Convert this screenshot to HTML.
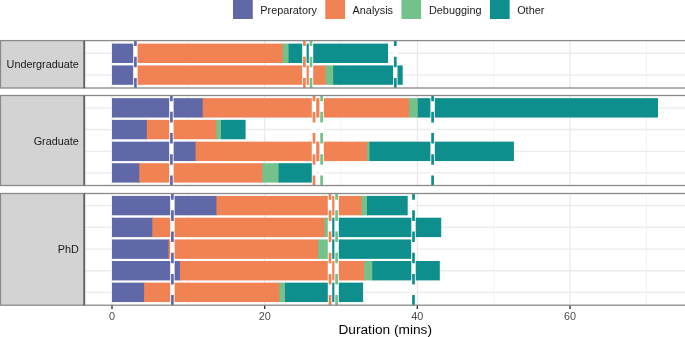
<!DOCTYPE html><html><head><meta charset="utf-8"><style>html,body{margin:0;padding:0;background:#fff;}svg{display:block;will-change:transform;}text{font-family:"Liberation Sans",sans-serif;}</style></head><body>
<svg width="685" height="337" viewBox="0 0 685 337">
<rect x="0" y="0" width="685" height="337" fill="#fff"/>
<rect x="233.0" y="-1" width="19.75" height="20.0" fill="#6068A8"/>
<text x="260.3" y="13.9" font-size="10.85" fill="#1A1A1A">Preparatory</text>
<rect x="325.3" y="-1" width="19.75" height="20.0" fill="#F08253"/>
<text x="352.6" y="13.9" font-size="10.85" fill="#1A1A1A">Analysis</text>
<rect x="401.4" y="-1" width="19.75" height="20.0" fill="#74C18C"/>
<text x="429.0" y="13.9" font-size="10.85" fill="#1A1A1A">Debugging</text>
<rect x="489.9" y="-1" width="19.75" height="20.0" fill="#0E8E8C"/>
<text x="517.2" y="13.9" font-size="10.85" fill="#1A1A1A">Other</text>
<clipPath id="c0"><rect x="84.5" y="40.6" width="601.5" height="47.4"/></clipPath>
<rect x="0.5" y="40.6" width="84.0" height="47.4" fill="#D3D3D3" stroke="#8A8A8A" stroke-width="1.3"/>
<text x="78.9" y="68.4" font-size="10.85" text-anchor="end" fill="#1A1A1A">Undergraduate</text>
<rect x="84.5" y="40.6" width="601.5" height="47.4" fill="#fff"/>
<g clip-path="url(#c0)">
<line x1="188.33" y1="40.6" x2="188.33" y2="88.0" stroke="#F3F3F3" stroke-width="1"/>
<line x1="341.00" y1="40.6" x2="341.00" y2="88.0" stroke="#F3F3F3" stroke-width="1"/>
<line x1="493.67" y1="40.6" x2="493.67" y2="88.0" stroke="#F3F3F3" stroke-width="1"/>
<line x1="646.33" y1="40.6" x2="646.33" y2="88.0" stroke="#F3F3F3" stroke-width="1"/>
<line x1="112.00" y1="40.6" x2="112.00" y2="88.0" stroke="#EBEBEB" stroke-width="1.4"/>
<line x1="264.67" y1="40.6" x2="264.67" y2="88.0" stroke="#EBEBEB" stroke-width="1.4"/>
<line x1="417.33" y1="40.6" x2="417.33" y2="88.0" stroke="#EBEBEB" stroke-width="1.4"/>
<line x1="570.00" y1="40.6" x2="570.00" y2="88.0" stroke="#EBEBEB" stroke-width="1.4"/>
<line x1="84.5" y1="53.3" x2="686.0" y2="53.3" stroke="#EBEBEB" stroke-width="1.4"/>
<line x1="84.5" y1="75.1" x2="686.0" y2="75.1" stroke="#EBEBEB" stroke-width="1.4"/>
<rect x="112" y="43.60" width="24.20" height="19.40" fill="#6068A8"/>
<rect x="135.4" y="43.60" width="148.30" height="19.40" fill="#F08253"/>
<rect x="282.9" y="43.60" width="6.50" height="19.40" fill="#74C18C"/>
<rect x="288.6" y="43.60" width="99.40" height="19.40" fill="#0E8E8C"/>
<rect x="112" y="65.40" width="24.20" height="19.40" fill="#6068A8"/>
<rect x="135.4" y="65.40" width="190.90" height="19.40" fill="#F08253"/>
<rect x="325.5" y="65.40" width="8.50" height="19.40" fill="#74C18C"/>
<rect x="333.2" y="65.40" width="69.50" height="19.40" fill="#0E8E8C"/>
<line x1="135.4" y1="40.6" x2="135.4" y2="88.0" stroke="#fff" stroke-width="4.4"/>
<line x1="304.4" y1="40.6" x2="304.4" y2="88.0" stroke="#fff" stroke-width="4.4"/>
<line x1="311.0" y1="40.6" x2="311.0" y2="88.0" stroke="#fff" stroke-width="4.4"/>
<line x1="395.3" y1="40.6" x2="395.3" y2="88.0" stroke="#fff" stroke-width="4.4"/>
<line x1="135.4" y1="88.5" x2="135.4" y2="39.6" stroke="#6068A8" stroke-width="2.7" stroke-dasharray="10.6 10.6"/>
<line x1="304.4" y1="88.5" x2="304.4" y2="39.6" stroke="#F08253" stroke-width="2.7" stroke-dasharray="10.6 10.6"/>
<line x1="311.0" y1="88.5" x2="311.0" y2="39.6" stroke="#74C18C" stroke-width="2.7" stroke-dasharray="10.6 10.6"/>
<line x1="395.3" y1="88.5" x2="395.3" y2="39.6" stroke="#0E8E8C" stroke-width="2.7" stroke-dasharray="10.6 10.6"/>
</g>
<rect x="84.5" y="40.6" width="601.5" height="47.4" fill="none" stroke="#8A8A8A" stroke-width="1.3"/>
<clipPath id="c1"><rect x="84.5" y="95.5" width="601.5" height="90.0"/></clipPath>
<rect x="0.5" y="95.5" width="84.0" height="90.0" fill="#D3D3D3" stroke="#8A8A8A" stroke-width="1.3"/>
<text x="78.9" y="144.8" font-size="10.85" text-anchor="end" fill="#1A1A1A">Graduate</text>
<rect x="84.5" y="95.5" width="601.5" height="90.0" fill="#fff"/>
<g clip-path="url(#c1)">
<line x1="188.33" y1="95.5" x2="188.33" y2="185.5" stroke="#F3F3F3" stroke-width="1"/>
<line x1="341.00" y1="95.5" x2="341.00" y2="185.5" stroke="#F3F3F3" stroke-width="1"/>
<line x1="493.67" y1="95.5" x2="493.67" y2="185.5" stroke="#F3F3F3" stroke-width="1"/>
<line x1="646.33" y1="95.5" x2="646.33" y2="185.5" stroke="#F3F3F3" stroke-width="1"/>
<line x1="112.00" y1="95.5" x2="112.00" y2="185.5" stroke="#EBEBEB" stroke-width="1.4"/>
<line x1="264.67" y1="95.5" x2="264.67" y2="185.5" stroke="#EBEBEB" stroke-width="1.4"/>
<line x1="417.33" y1="95.5" x2="417.33" y2="185.5" stroke="#EBEBEB" stroke-width="1.4"/>
<line x1="570.00" y1="95.5" x2="570.00" y2="185.5" stroke="#EBEBEB" stroke-width="1.4"/>
<line x1="84.5" y1="107.85" x2="686.0" y2="107.85" stroke="#EBEBEB" stroke-width="1.4"/>
<line x1="84.5" y1="129.55" x2="686.0" y2="129.55" stroke="#EBEBEB" stroke-width="1.4"/>
<line x1="84.5" y1="151.35" x2="686.0" y2="151.35" stroke="#EBEBEB" stroke-width="1.4"/>
<line x1="84.5" y1="172.9" x2="686.0" y2="172.9" stroke="#EBEBEB" stroke-width="1.4"/>
<rect x="112" y="98.15" width="91.50" height="19.40" fill="#6068A8"/>
<rect x="202.7" y="98.15" width="207.30" height="19.40" fill="#F08253"/>
<rect x="409.2" y="98.15" width="9.40" height="19.40" fill="#74C18C"/>
<rect x="417.8" y="98.15" width="240.20" height="19.40" fill="#0E8E8C"/>
<rect x="112" y="119.85" width="35.60" height="19.40" fill="#6068A8"/>
<rect x="146.8" y="119.85" width="70.40" height="19.40" fill="#F08253"/>
<rect x="216.4" y="119.85" width="5.40" height="19.40" fill="#74C18C"/>
<rect x="221.0" y="119.85" width="24.60" height="19.40" fill="#0E8E8C"/>
<rect x="112" y="141.65" width="84.30" height="19.40" fill="#6068A8"/>
<rect x="195.5" y="141.65" width="172.40" height="19.40" fill="#F08253"/>
<rect x="367.1" y="141.65" width="3.20" height="19.40" fill="#74C18C"/>
<rect x="369.5" y="141.65" width="144.40" height="19.40" fill="#0E8E8C"/>
<rect x="112" y="163.20" width="28.00" height="19.40" fill="#6068A8"/>
<rect x="139.2" y="163.20" width="124.00" height="19.40" fill="#F08253"/>
<rect x="262.4" y="163.20" width="17.00" height="19.40" fill="#74C18C"/>
<rect x="278.6" y="163.20" width="34.40" height="19.40" fill="#0E8E8C"/>
<line x1="171.4" y1="95.5" x2="171.4" y2="185.5" stroke="#fff" stroke-width="4.4"/>
<line x1="314.0" y1="95.5" x2="314.0" y2="185.5" stroke="#fff" stroke-width="4.4"/>
<line x1="321.6" y1="95.5" x2="321.6" y2="185.5" stroke="#fff" stroke-width="4.4"/>
<line x1="432.6" y1="95.5" x2="432.6" y2="185.5" stroke="#fff" stroke-width="4.4"/>
<line x1="171.4" y1="186.0" x2="171.4" y2="94.5" stroke="#6068A8" stroke-width="2.7" stroke-dasharray="10.6 10.6"/>
<line x1="314.0" y1="186.0" x2="314.0" y2="94.5" stroke="#F08253" stroke-width="2.7" stroke-dasharray="10.6 10.6"/>
<line x1="321.6" y1="186.0" x2="321.6" y2="94.5" stroke="#74C18C" stroke-width="2.7" stroke-dasharray="10.6 10.6"/>
<line x1="432.6" y1="186.0" x2="432.6" y2="94.5" stroke="#0E8E8C" stroke-width="2.7" stroke-dasharray="10.6 10.6"/>
</g>
<rect x="84.5" y="95.5" width="601.5" height="90.0" fill="none" stroke="#8A8A8A" stroke-width="1.3"/>
<clipPath id="c2"><rect x="84.5" y="193.5" width="601.5" height="111.69999999999999"/></clipPath>
<rect x="0.5" y="193.5" width="84.0" height="111.69999999999999" fill="#D3D3D3" stroke="#8A8A8A" stroke-width="1.3"/>
<text x="78.9" y="253.1" font-size="10.85" text-anchor="end" fill="#1A1A1A">PhD</text>
<rect x="84.5" y="193.5" width="601.5" height="111.69999999999999" fill="#fff"/>
<g clip-path="url(#c2)">
<line x1="188.33" y1="193.5" x2="188.33" y2="305.2" stroke="#F3F3F3" stroke-width="1"/>
<line x1="341.00" y1="193.5" x2="341.00" y2="305.2" stroke="#F3F3F3" stroke-width="1"/>
<line x1="493.67" y1="193.5" x2="493.67" y2="305.2" stroke="#F3F3F3" stroke-width="1"/>
<line x1="646.33" y1="193.5" x2="646.33" y2="305.2" stroke="#F3F3F3" stroke-width="1"/>
<line x1="112.00" y1="193.5" x2="112.00" y2="305.2" stroke="#EBEBEB" stroke-width="1.4"/>
<line x1="264.67" y1="193.5" x2="264.67" y2="305.2" stroke="#EBEBEB" stroke-width="1.4"/>
<line x1="417.33" y1="193.5" x2="417.33" y2="305.2" stroke="#EBEBEB" stroke-width="1.4"/>
<line x1="570.00" y1="193.5" x2="570.00" y2="305.2" stroke="#EBEBEB" stroke-width="1.4"/>
<line x1="84.5" y1="205.6" x2="686.0" y2="205.6" stroke="#EBEBEB" stroke-width="1.4"/>
<line x1="84.5" y1="227.4" x2="686.0" y2="227.4" stroke="#EBEBEB" stroke-width="1.4"/>
<line x1="84.5" y1="249.15" x2="686.0" y2="249.15" stroke="#EBEBEB" stroke-width="1.4"/>
<line x1="84.5" y1="270.7" x2="686.0" y2="270.7" stroke="#EBEBEB" stroke-width="1.4"/>
<line x1="84.5" y1="292.35" x2="686.0" y2="292.35" stroke="#EBEBEB" stroke-width="1.4"/>
<rect x="112" y="195.90" width="105.20" height="19.40" fill="#6068A8"/>
<rect x="216.4" y="195.90" width="146.00" height="19.40" fill="#F08253"/>
<rect x="361.6" y="195.90" width="6.20" height="19.40" fill="#74C18C"/>
<rect x="367.0" y="195.90" width="40.70" height="19.40" fill="#0E8E8C"/>
<rect x="112" y="217.70" width="41.10" height="19.40" fill="#6068A8"/>
<rect x="152.3" y="217.70" width="173.00" height="19.40" fill="#F08253"/>
<rect x="324.5" y="217.70" width="5.30" height="19.40" fill="#74C18C"/>
<rect x="329.0" y="217.70" width="112.20" height="19.40" fill="#0E8E8C"/>
<rect x="112" y="239.45" width="57.30" height="19.40" fill="#6068A8"/>
<rect x="168.5" y="239.45" width="150.40" height="19.40" fill="#F08253"/>
<rect x="318.1" y="239.45" width="11.70" height="19.40" fill="#74C18C"/>
<rect x="329.0" y="239.45" width="82.50" height="19.40" fill="#0E8E8C"/>
<rect x="112" y="261.00" width="68.70" height="19.40" fill="#6068A8"/>
<rect x="179.9" y="261.00" width="185.10" height="19.40" fill="#F08253"/>
<rect x="364.2" y="261.00" width="8.90" height="19.40" fill="#74C18C"/>
<rect x="372.3" y="261.00" width="67.50" height="19.40" fill="#0E8E8C"/>
<rect x="112" y="282.65" width="32.90" height="19.40" fill="#6068A8"/>
<rect x="144.1" y="282.65" width="136.00" height="19.40" fill="#F08253"/>
<rect x="279.3" y="282.65" width="6.50" height="19.40" fill="#74C18C"/>
<rect x="285.0" y="282.65" width="78.10" height="19.40" fill="#0E8E8C"/>
<line x1="172.4" y1="193.5" x2="172.4" y2="305.2" stroke="#fff" stroke-width="4.4"/>
<line x1="330.0" y1="193.5" x2="330.0" y2="305.2" stroke="#fff" stroke-width="4.4"/>
<line x1="336.6" y1="193.5" x2="336.6" y2="305.2" stroke="#fff" stroke-width="4.4"/>
<line x1="413.5" y1="193.5" x2="413.5" y2="305.2" stroke="#fff" stroke-width="4.4"/>
<line x1="172.4" y1="305.7" x2="172.4" y2="192.5" stroke="#6068A8" stroke-width="2.7" stroke-dasharray="10.6 10.6"/>
<line x1="330.0" y1="305.7" x2="330.0" y2="192.5" stroke="#F08253" stroke-width="2.7" stroke-dasharray="10.6 10.6"/>
<line x1="336.6" y1="305.7" x2="336.6" y2="192.5" stroke="#74C18C" stroke-width="2.7" stroke-dasharray="10.6 10.6"/>
<line x1="413.5" y1="305.7" x2="413.5" y2="192.5" stroke="#0E8E8C" stroke-width="2.7" stroke-dasharray="10.6 10.6"/>
</g>
<rect x="84.5" y="193.5" width="601.5" height="111.69999999999999" fill="none" stroke="#8A8A8A" stroke-width="1.3"/>
<line x1="84.2" y1="40.6" x2="84.2" y2="88.0" stroke="#5F6165" stroke-width="1.7"/>
<line x1="84.2" y1="95.5" x2="84.2" y2="185.5" stroke="#5F6165" stroke-width="1.7"/>
<line x1="84.2" y1="193.5" x2="84.2" y2="305.2" stroke="#5F6165" stroke-width="1.7"/>
<line x1="112.00" y1="305.7" x2="112.00" y2="309.0" stroke="#333" stroke-width="1.4"/>
<text x="112.00" y="320.0" font-size="10.85" text-anchor="middle" fill="#4D4D4D">0</text>
<line x1="264.67" y1="305.7" x2="264.67" y2="309.0" stroke="#333" stroke-width="1.4"/>
<text x="264.67" y="320.0" font-size="10.85" text-anchor="middle" fill="#4D4D4D">20</text>
<line x1="417.33" y1="305.7" x2="417.33" y2="309.0" stroke="#333" stroke-width="1.4"/>
<text x="417.33" y="320.0" font-size="10.85" text-anchor="middle" fill="#4D4D4D">40</text>
<line x1="570.00" y1="305.7" x2="570.00" y2="309.0" stroke="#333" stroke-width="1.4"/>
<text x="570.00" y="320.0" font-size="10.85" text-anchor="middle" fill="#4D4D4D">60</text>
<text x="385.2" y="334.2" font-size="13.7" text-anchor="middle" fill="#000">Duration (mins)</text>
</svg></body></html>
